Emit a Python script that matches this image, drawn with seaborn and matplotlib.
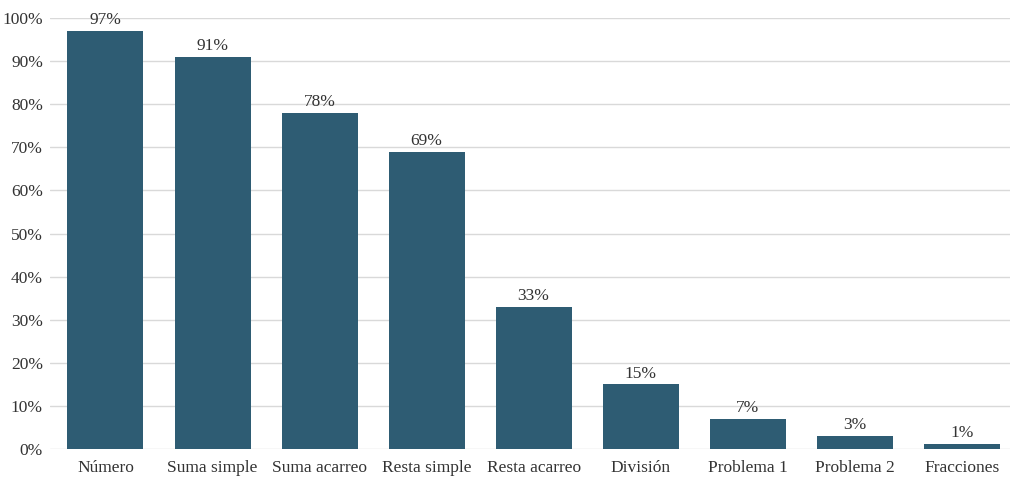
import matplotlib
matplotlib.use("Agg")
import matplotlib.pyplot as plt
import seaborn as sns
import pandas as pd
from matplotlib.ticker import FuncFormatter

# datos
categorias = ["Número", "Suma simple", "Suma acarreo", "Resta simple", "Resta acarreo",
              "División", "Problema 1", "Problema 2", "Fracciones"]
porcentajes = [97, 91, 78, 69, 33, 15, 7, 3, 1.2]
etiquetas = ["97%", "91%", "78%", "69%", "33%", "15%", "7%", "3%", "1%"]

df = pd.DataFrame({"categoria": categorias, "pct": porcentajes})

sns.set_theme(style="white")
plt.rcParams["font.family"] = ["Liberation Serif", "DejaVu Serif"]
plt.rcParams["text.color"] = "#333333"

fig = plt.figure(figsize=(10.17, 4.78), dpi=100)
ax = fig.add_axes([0.049, 0.0607, 0.944, 0.9016])

sns.barplot(data=df, x="categoria", y="pct", color="#2e5c73", saturation=1,
            width=0.71, linewidth=0, ax=ax, zorder=3)

for i, (v, t) in enumerate(zip(porcentajes, etiquetas)):
    ax.text(i, v + 0.6, t, ha="center", va="bottom", fontsize=12.5, color="#333333")

ax.set_ylim(0, 100)
ax.set_xlim(-0.52, 8.45)
ax.set_yticks(range(0, 101, 10))
ax.yaxis.set_major_formatter(FuncFormatter(lambda v, p: f"{v:.0f}%"))
ax.grid(axis="y", color="#d9d9d9", linewidth=1, zorder=0)
ax.set_axisbelow(True)
for s in ax.spines.values():
    s.set_visible(False)
ax.tick_params(axis="both", length=0, labelsize=12.5, colors="#333333")
ax.tick_params(axis="x", pad=8)
ax.tick_params(axis="y", pad=5)
ax.set_xlabel("")
ax.set_ylabel("")

fig.savefig("out.png", dpi=100)
